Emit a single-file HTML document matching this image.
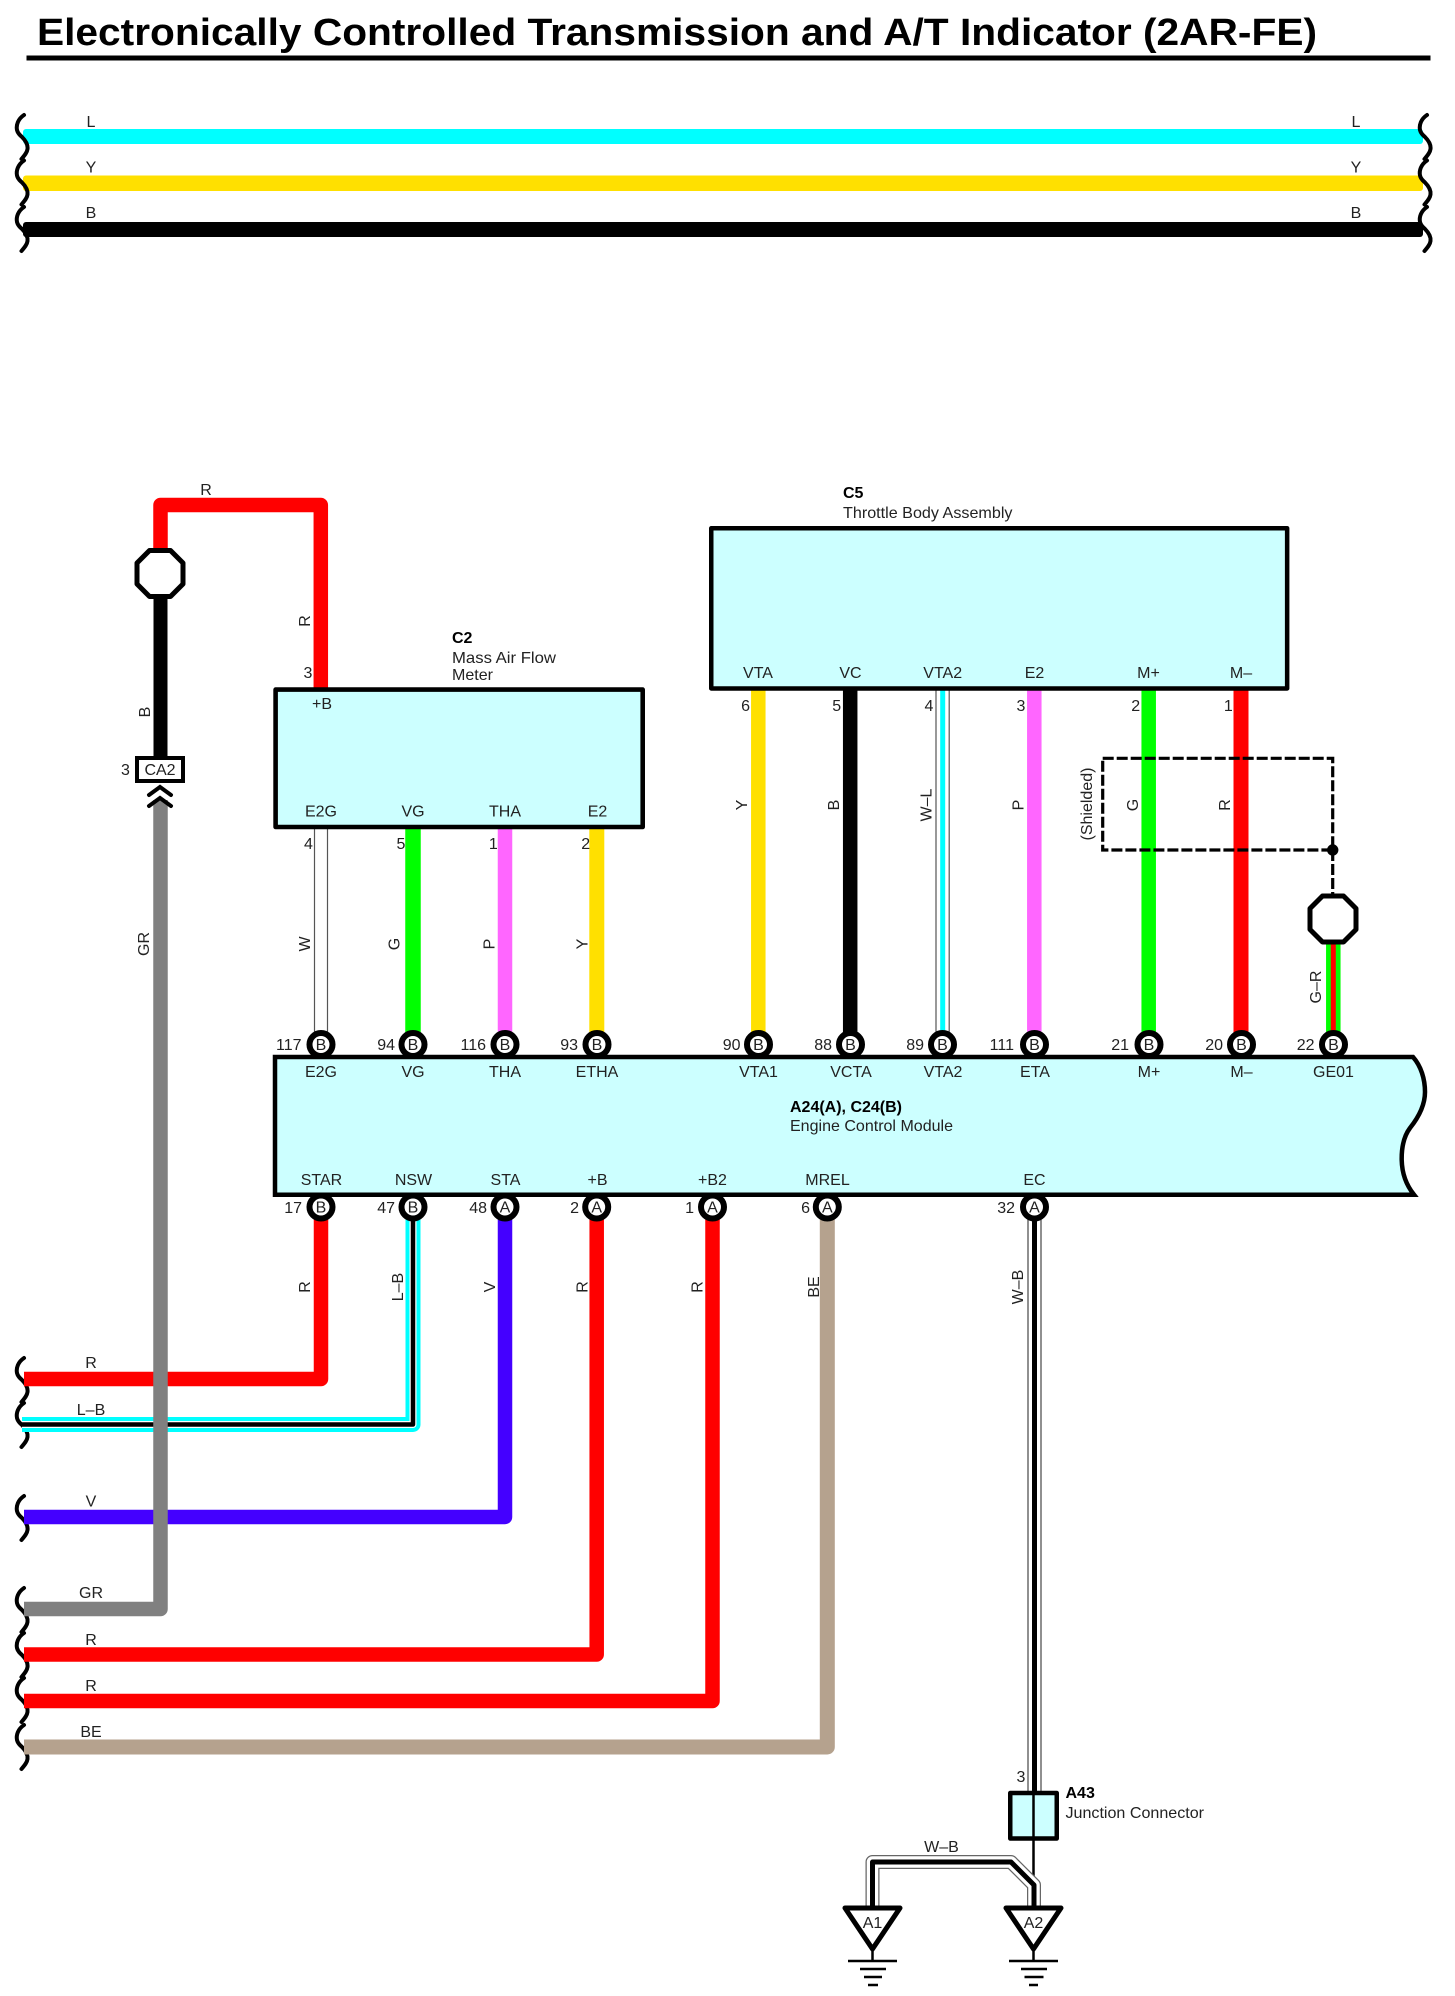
<!DOCTYPE html>
<html>
<head>
<meta charset="utf-8">
<style>
html,body{margin:0;padding:0;background:#fff;width:1455px;height:1996px;overflow:hidden}
svg{display:block}
text{font-family:"Liberation Sans",sans-serif;font-size:16px;fill:#222;text-anchor:middle}
.e{text-anchor:end}
.s{text-anchor:start}
.b{font-weight:bold;fill:#000}
.w{fill:none;stroke-linejoin:round;stroke-linecap:butt}
</style>
</head>
<body>
<svg xmlns="http://www.w3.org/2000/svg" width="1455" height="1996" viewBox="0 0 1455 1996">
<defs>
<path id="sq" d="M24,0 C18,4 16,10 17,15 C18,19 20,20 22,22 C26,26 28,30 27.5,34 C27,38 24,41 21.5,44" fill="none" stroke="#000" stroke-width="4" stroke-linecap="round"/>
<polygon id="oct" points="-10.5,-23 10.5,-23 23,-10.5 23,10.5 10.5,23 -10.5,23 -23,10.5 -23,-10.5" fill="#fff" stroke="#000" stroke-width="5" stroke-linejoin="round"/>
<circle id="pin" r="11.5" fill="#fff" stroke="#000" stroke-width="6"/>
</defs>

<rect width="1455" height="1996" fill="#fff"/>

<!-- Title -->
<text class="s b" x="37" y="45" style="font-size:38px" textLength="1280" lengthAdjust="spacingAndGlyphs">Electronically Controlled Transmission and A/T Indicator (2AR-FE)</text>
<rect x="26.5" y="55.5" width="1404" height="5" fill="#000"/>

<!-- Top bus wires -->
<rect x="23" y="129" width="1400" height="15" rx="3" fill="#00ffff"/>
<rect x="23" y="175.5" width="1400" height="15.5" rx="3" fill="#ffe000"/>
<rect x="23" y="222" width="1400" height="15" rx="3" fill="#000"/>
<use href="#sq" x="0" y="115"/><use href="#sq" x="0" y="160.5"/><use href="#sq" x="0" y="207"/>
<use href="#sq" x="1403" y="115"/><use href="#sq" x="1403" y="160.5"/><use href="#sq" x="1403" y="207"/>
<text x="91" y="127">L</text><text x="1356" y="127">L</text>
<text x="91" y="172.5">Y</text><text x="1356" y="172.5">Y</text>
<text x="91" y="218">B</text><text x="1356" y="218">B</text>

<!-- Left breaks, bottom section -->
<use href="#sq" x="0" y="1358"/><use href="#sq" x="0" y="1403"/><use href="#sq" x="0" y="1496"/>
<use href="#sq" x="0" y="1588"/><use href="#sq" x="0" y="1633"/><use href="#sq" x="0" y="1678"/><use href="#sq" x="0" y="1725"/>

<!-- ECM lower wires -->
<path class="w" stroke="#ff0000" stroke-width="14.5" d="M321,1215 V1379 H24"/>
<path class="w" stroke="#00ffff" stroke-width="15" d="M413,1215 V1424.5 H22"/>
<path class="w" stroke="#fff" stroke-width="7" d="M413,1215 V1424.5 H22"/>
<path class="w" stroke="#000" stroke-width="4.5" d="M413,1215 V1424.5 H22"/>
<path class="w" stroke="#4400ff" stroke-width="14.5" d="M505,1215 V1517 H24"/>
<path class="w" stroke="#ff0000" stroke-width="14.5" d="M596.7,1215 V1654.5 H24"/>
<path class="w" stroke="#ff0000" stroke-width="14.5" d="M712.5,1215 V1701 H24"/>
<path class="w" stroke="#b5a28e" stroke-width="15" d="M827.3,1215 V1747 H24"/>

<!-- Gray wire crosses over others -->
<path class="w" stroke="#808080" stroke-width="14.5" d="M160.5,800 V1609 H24"/>

<!-- R / B wires & CA2 -->
<path class="w" stroke="#ff0000" stroke-width="14.5" d="M160.5,552 V505 H320.8 V690"/>
<path class="w" stroke="#000" stroke-width="14" d="M160.5,598 V760"/>
<use href="#oct" x="160" y="573.5"/>
<rect x="137" y="758" width="46" height="23" fill="#fff" stroke="#000" stroke-width="4"/>
<path d="M149,795 L160,787 L171,795 M149,806 L160,798 L171,806" fill="none" stroke="#000" stroke-width="4" stroke-linecap="round"/>
<text x="160" y="775">CA2</text>
<text x="125.5" y="775">3</text>
<text x="206" y="495">R</text>
<text transform="translate(310,621) rotate(-90)">R</text>
<text x="308" y="678">3</text>
<text transform="translate(150,712) rotate(-90)">B</text>
<text transform="translate(149,944) rotate(-90)">GR</text>

<!-- C2 to ECM wires -->
<rect x="314" y="828" width="14" height="205" fill="#fff"/>
<path d="M314.5,828 V1033 M327.5,828 V1033" stroke="#555" stroke-width="1.2" fill="none"/>
<path class="w" stroke="#00ff00" stroke-width="15.5" d="M413,828 V1033"/>
<path class="w" stroke="#ff66ff" stroke-width="14.5" d="M505,828 V1033"/>
<path class="w" stroke="#ffe000" stroke-width="15" d="M596.8,828 V1033"/>

<!-- C5 to ECM wires -->
<path class="w" stroke="#ffe000" stroke-width="14.5" d="M758.3,690 V1033"/>
<path class="w" stroke="#000" stroke-width="14.5" d="M850.2,690 V1033"/>
<path d="M936,690 V1033 M949.2,690 V1033" stroke="#555" stroke-width="1.2" fill="none"/>
<path class="w" stroke="#00ffff" stroke-width="5" d="M942.7,690 V1033"/>
<path class="w" stroke="#ff66ff" stroke-width="14.5" d="M1034.3,690 V1033"/>
<path class="w" stroke="#00ff00" stroke-width="14.5" d="M1148.7,690 V1033"/>
<path class="w" stroke="#ff0000" stroke-width="15" d="M1241,690 V1033"/>

<!-- Shield -->
<rect x="1102.7" y="758.3" width="230" height="91.7" fill="none" stroke="#000" stroke-width="3.2" stroke-dasharray="11 3"/>
<path d="M1332.7,850 V894" stroke="#000" stroke-width="3.2" stroke-dasharray="11 3" fill="none"/>
<circle cx="1332.7" cy="850" r="5.7" fill="#000"/>
<path class="w" stroke="#00ff00" stroke-width="14.5" d="M1333.3,944 V1033"/>
<path class="w" stroke="#ff0000" stroke-width="5" d="M1333.3,944 V1033"/>
<use href="#oct" x="1333" y="919"/>
<text transform="translate(1092,804) rotate(-90)">(Shielded)</text>
<text transform="translate(1321,987) rotate(-90)">G–R</text>

<!-- C2 box -->
<rect x="275.6" y="689.6" width="367.1" height="137.4" fill="#ccffff" stroke="#000" stroke-width="4.6" stroke-linejoin="round"/>
<text class="s b" x="452" y="643">C2</text>
<text class="s" x="452" y="663" textLength="104" lengthAdjust="spacingAndGlyphs">Mass Air Flow</text>
<text class="s" x="452" y="680" textLength="41" lengthAdjust="spacingAndGlyphs">Meter</text>
<text x="322" y="709">+B</text>
<text x="321" y="816.5">E2G</text><text x="413" y="816.5">VG</text><text x="505" y="816.5">THA</text><text x="597.5" y="816.5">E2</text>
<text x="308.5" y="849">4</text><text x="401" y="849">5</text><text x="493.3" y="849">1</text><text x="585.7" y="849">2</text>
<text transform="translate(310,944) rotate(-90)">W</text>
<text transform="translate(399.5,944) rotate(-90)">G</text>
<text transform="translate(494.5,944) rotate(-90)">P</text>
<text transform="translate(587.5,944) rotate(-90)">Y</text>

<!-- C5 box -->
<rect x="711.25" y="528.25" width="575.9" height="160.2" fill="#ccffff" stroke="#000" stroke-width="4.5" stroke-linejoin="round"/>
<text class="s b" x="843" y="498">C5</text>
<text class="s" x="843" y="518" textLength="169.5" lengthAdjust="spacingAndGlyphs">Throttle Body Assembly</text>
<text x="758" y="678">VTA</text><text x="850.5" y="678">VC</text><text x="942.7" y="678">VTA2</text><text x="1034.5" y="678">E2</text><text x="1148.5" y="678">M+</text><text x="1241" y="678">M–</text>
<text x="745.6" y="711">6</text><text x="836.7" y="711">5</text><text x="929" y="711">4</text><text x="1021" y="711">3</text><text x="1135.7" y="711">2</text><text x="1228.3" y="711">1</text>
<text transform="translate(747,805) rotate(-90)">Y</text>
<text transform="translate(839,805) rotate(-90)">B</text>
<text transform="translate(931.5,805) rotate(-90)">W–L</text>
<text transform="translate(1023.5,805) rotate(-90)">P</text>
<text transform="translate(1138,805) rotate(-90)">G</text>
<text transform="translate(1230,805) rotate(-90)">R</text>

<!-- EC wire -->
<rect x="1027.5" y="1215" width="14" height="577" fill="#fff"/>
<path d="M1028,1215 V1792 M1041,1215 V1792" stroke="#555" stroke-width="1.3" fill="none"/>
<path class="w" stroke="#000" stroke-width="5" d="M1034.5,1215 V1792"/>

<!-- ECM box -->
<path d="M275,1057 H1413 C1421,1066 1425,1079 1425,1092 C1425,1106 1418,1118 1410,1128 C1404,1136 1401.5,1148 1401.7,1160 C1402,1174 1407,1186 1414,1194.7 H275 Z" fill="#ccffff" stroke="#000" stroke-width="4.5" stroke-linejoin="miter"/>
<text x="321" y="1077">E2G</text><text x="413" y="1077">VG</text><text x="505" y="1077">THA</text><text x="597" y="1077">ETHA</text><text x="758.5" y="1077">VTA1</text><text x="851" y="1077">VCTA</text><text x="943" y="1077">VTA2</text><text x="1035" y="1077">ETA</text><text x="1149" y="1077">M+</text><text x="1241.5" y="1077">M–</text><text x="1333.5" y="1077">GE01</text>
<text x="321.5" y="1185">STAR</text><text x="413.5" y="1185">NSW</text><text x="505.5" y="1185">STA</text><text x="597.5" y="1185">+B</text><text x="712.5" y="1185">+B2</text><text x="827.5" y="1185">MREL</text><text x="1034.5" y="1185">EC</text>
<text class="s b" x="790" y="1112" textLength="112" lengthAdjust="spacingAndGlyphs">A24(A), C24(B)</text>
<text class="s" x="790" y="1131" textLength="163" lengthAdjust="spacingAndGlyphs">Engine Control Module</text>

<!-- ECM pins top -->
<use href="#pin" x="321" y="1044.5"/><use href="#pin" x="413" y="1044.5"/><use href="#pin" x="505" y="1044.5"/><use href="#pin" x="597" y="1044.5"/><use href="#pin" x="758.5" y="1044.5"/><use href="#pin" x="850.5" y="1044.5"/><use href="#pin" x="942.5" y="1044.5"/><use href="#pin" x="1034.5" y="1044.5"/><use href="#pin" x="1149" y="1044.5"/><use href="#pin" x="1241.5" y="1044.5"/><use href="#pin" x="1333.5" y="1044.5"/>
<text x="321" y="1050">B</text><text x="413" y="1050">B</text><text x="505" y="1050">B</text><text x="597" y="1050">B</text><text x="758.5" y="1050">B</text><text x="850.5" y="1050">B</text><text x="942.5" y="1050">B</text><text x="1034.5" y="1050">B</text><text x="1149" y="1050">B</text><text x="1241.5" y="1050">B</text><text x="1333.5" y="1050">B</text>
<g>
<text class="e" x="301.5" y="1050">117</text><text class="e" x="395" y="1050">94</text><text class="e" x="486" y="1050">116</text><text class="e" x="578" y="1050">93</text><text class="e" x="740.5" y="1050">90</text><text class="e" x="832" y="1050">88</text><text class="e" x="924" y="1050">89</text><text class="e" x="1014" y="1050">111</text><text class="e" x="1129" y="1050">21</text><text class="e" x="1223" y="1050">20</text><text class="e" x="1314.5" y="1050">22</text>
</g>

<!-- ECM pins bottom -->
<use href="#pin" x="321" y="1207"/><use href="#pin" x="413" y="1207"/><use href="#pin" x="505" y="1207"/><use href="#pin" x="596.7" y="1207"/><use href="#pin" x="712.5" y="1207"/><use href="#pin" x="827.3" y="1207"/><use href="#pin" x="1034.5" y="1207"/>
<text x="321" y="1212.5">B</text><text x="413" y="1212.5">B</text><text x="505" y="1212.5">A</text><text x="596.7" y="1212.5">A</text><text x="712.5" y="1212.5">A</text><text x="827.3" y="1212.5">A</text><text x="1034.5" y="1212.5">A</text>
<text class="e" x="302" y="1213">17</text><text class="e" x="395" y="1213">47</text><text class="e" x="487" y="1213">48</text><text class="e" x="579" y="1213">2</text><text class="e" x="694" y="1213">1</text><text class="e" x="810" y="1213">6</text><text class="e" x="1015" y="1213">32</text>

<!-- ECM bottom wire labels -->
<text transform="translate(310,1287) rotate(-90)">R</text>
<text transform="translate(403,1287) rotate(-90)">L–B</text>
<text transform="translate(495,1287) rotate(-90)">V</text>
<text transform="translate(587.5,1287) rotate(-90)">R</text>
<text transform="translate(702.5,1287) rotate(-90)">R</text>
<text transform="translate(819,1287) rotate(-90)">BE</text>
<text transform="translate(1023,1287) rotate(-90)">W–B</text>

<!-- Left labels -->
<text x="91" y="1368">R</text>
<text x="91" y="1415">L–B</text>
<text x="91" y="1506.5">V</text>
<text x="91" y="1598">GR</text>
<text x="91" y="1645">R</text>
<text x="91" y="1691">R</text>
<text x="91" y="1737">BE</text>

<!-- A43 -->
<rect x="1010.25" y="1793" width="46.5" height="45.5" fill="#ccffff" stroke="#000" stroke-width="4.5" stroke-linejoin="round"/>
<path d="M1033.5,1793 V1886" stroke="#000" stroke-width="2.5" fill="none"/>
<text x="1021" y="1782">3</text>
<text class="s b" x="1065.5" y="1798">A43</text>
<text class="s" x="1065.5" y="1818" textLength="138.5" lengthAdjust="spacingAndGlyphs">Junction Connector</text>
<text x="941.5" y="1852">W–B</text>

<!-- Ground branch -->
<path class="w" stroke="#666" stroke-width="14" d="M872.5,1907 V1862 H1011 L1034,1885 V1907"/>
<path class="w" stroke="#fff" stroke-width="11.5" d="M872.5,1907 V1862 H1011 L1034,1885 V1907"/>
<path class="w" stroke="#000" stroke-width="5" d="M872.5,1907 V1862 H1011 L1034,1885 V1907"/>

<!-- Grounds -->
<polygon points="845,1908 900,1908 872.5,1949" fill="#fff" stroke="#000" stroke-width="5" stroke-linejoin="round"/>
<polygon points="1006,1908 1061,1908 1033.5,1949" fill="#fff" stroke="#000" stroke-width="5" stroke-linejoin="round"/>
<text x="872.5" y="1928">A1</text>
<text x="1033.5" y="1928">A2</text>
<g stroke="#000" stroke-width="2.5" fill="none">
<path d="M872.5,1949 V1961 M848,1961 H897 M860,1969 H886 M864,1977 H882 M868,1985 H878"/>
<path d="M1033.5,1949 V1961 M1009,1961 H1058 M1021,1969 H1047 M1024.5,1977 H1043.5 M1029,1985 H1038"/>
</g>
</svg>
</body>
</html>
